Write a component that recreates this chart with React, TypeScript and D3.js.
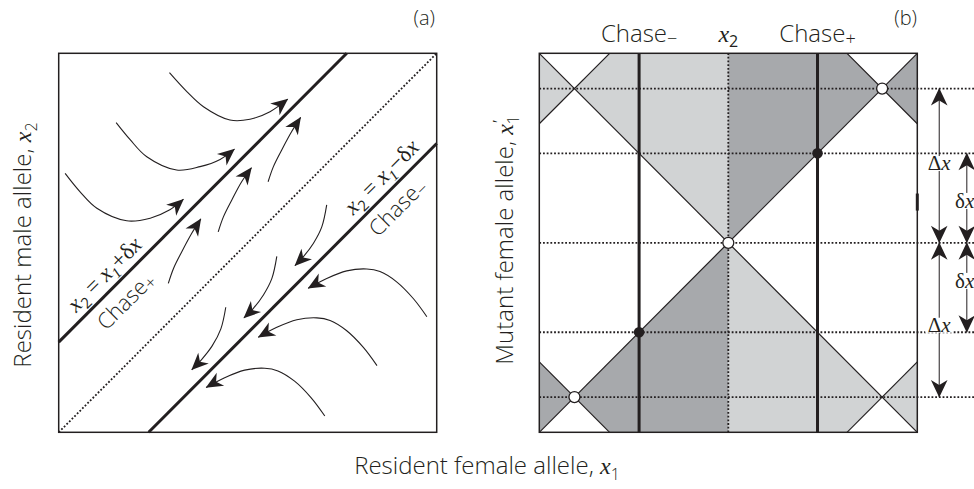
import React from "react";
import * as d3 from "d3";

// ---------- Panel (a) data (unit square 0..100) ----------
const diagA: [number, number][] = [[0, 0], [100, 100]];
const chasePlusLineA: [number, number][] = [[0, 23.8], [76.2, 100]];
const chaseMinusLineA: [number, number][] = [[23.8, 0], [100, 76.2]];

const flowOuterPlus: [number, number][][] = [
  [[29.3, 94.9], [33.9, 89.9], [38.3, 85.9], [45.3, 82.4], [50.6, 82.6], [55.9, 84.6], [60.6, 87.9]],
  [[15.2, 81.7], [18.9, 77.2], [23.3, 72.7], [31.2, 69.2], [37.4, 70.1], [42.7, 72.0], [46.5, 74.7]],
  [[1.7, 68.3], [5.6, 63.5], [10.1, 59.1], [18.0, 55.8], [24.2, 56.5], [29.4, 58.7], [33.0, 61.5]],
];
const flowInnerPlus: [number, number][][] = [
  [[55.4, 66.1], [56.8, 70.1], [59.0, 74.5], [61.6, 79.3], [64.0, 83.1]],
  [[42.2, 52.9], [43.6, 56.9], [45.8, 61.3], [48.4, 66.1], [51.0, 69.8]],
  [[29.0, 39.3], [30.4, 43.3], [32.6, 47.7], [35.2, 52.5], [37.6, 56.3]],
];
const flowInnerMinus: [number, number][][] = [
  [[70.9, 60.0], [69.6, 54.2], [67.4, 49.9], [64.7, 46.3], [62.5, 44.0]],
  [[57.7, 46.4], [56.4, 40.6], [54.2, 36.3], [51.5, 32.7], [49.0, 30.2]],
  [[44.2, 33.0], [42.9, 27.3], [40.6, 22.8], [37.8, 19.2], [35.2, 16.5]],
];
const flowOuterMinus: [number, number][][] = [
  [[97.4, 30.5], [93.8, 35.3], [89.4, 39.7], [85.0, 42.4], [81.5, 43.1], [76.2, 42.6], [70.9, 40.6], [66.0, 38.0]],
  [[84.2, 17.6], [80.6, 22.4], [76.2, 26.8], [71.8, 29.5], [68.3, 30.2], [63.0, 29.7], [57.7, 27.7], [52.8, 25.1]],
  [[70.4, 4.3], [66.8, 9.1], [62.4, 13.5], [58.0, 16.2], [54.5, 16.9], [49.2, 16.4], [43.9, 14.4], [39.0, 11.8]],
];
// label anchors on the lines (u coordinate)
const labelAnchorsA = { eqPlus: 15, chasePlus: 14.3, eqMinus: 88.3, chaseMinus: 86.4 };

// ---------- Panel (b) data (unit square 0..1) ----------
const bLevels = [0.093, 0.264, 0.5, 0.736, 0.907];
const bChaseMinus = 0.264;
const bChasePlus = 0.736;
const bX2 = 0.5;
const bDottedEnd = 1.15;
const lightRegions: [number, number][][] = [
  [[0.093, 0.907], [0.186, 1], [0.5, 1], [0.5, 0.5]],
  [[0, 1], [0, 0.814], [0.093, 0.907]],
  [[0.5, 0.5], [0.5, 0], [0.814, 0], [0.907, 0.093]],
  [[1, 0], [1, 0.186], [0.907, 0.093]],
];
const darkRegions: [number, number][][] = [
  [[0.5, 0.5], [0.5, 1], [0.814, 1], [0.907, 0.907]],
  [[1, 1], [1, 0.814], [0.907, 0.907]],
  [[0.5, 0.5], [0.5, 0], [0.186, 0], [0.093, 0.093]],
  [[0, 0], [0, 0.186], [0.093, 0.093]],
];
const bThinLines: [number, number][][] = [
  [[0, 0], [1, 1]],
  [[0, 1], [1, 0]],
  [[0, 0.814], [0.186, 1]],
  [[0.814, 1], [1, 0.814]],
  [[0, 0.186], [0.186, 0]],
  [[0.814, 0], [1, 0.186]],
];
const openDots: [number, number][] = [[0.093, 0.093], [0.5, 0.5], [0.907, 0.907]];
const filledDots: [number, number][] = [[0.264, 0.264], [0.736, 0.736]];
const arrowCols = [1.058, 1.131];
const arrowSegs = [
  { col: 0, from: 0.907, to: 0.5 },
  { col: 0, from: 0.5, to: 0.093 },
  { col: 1, from: 0.736, to: 0.5 },
  { col: 1, from: 0.5, to: 0.264 },
];
const bigDeltaLabels = [0.692, 0.2654];
const smallDeltaLabels = [0.592, 0.381];
const borderMark = [0.585, 0.63];

const INK = "#231f20";
const LIGHT = "#d1d3d4";
const DARK = "#a7a9ac";
const SANS = "'Open Sans', 'DejaVu Sans', sans-serif";
const SERIF = "'Liberation Serif', 'DejaVu Serif', serif";
const DOT = "1.8 1.9";

export default function App() {
  // scales
  const xa = d3.scaleLinear().domain([0, 100]).range([58.7, 436.7]);
  const ya = d3.scaleLinear().domain([0, 100]).range([432.3, 53.3]);
  const xb = d3.scaleLinear().domain([0, 1]).range([539.3, 917.3]);
  const yb = d3.scaleLinear().domain([0, 1]).range([432.3, 53.3]);

  const lineA = d3.line<[number, number]>().x((d) => xa(d[0])).y((d) => ya(d[1]));
  const curveA = d3
    .line<[number, number]>()
    .x((d) => xa(d[0]))
    .y((d) => ya(d[1]))
    .curve(d3.curveCatmullRom.alpha(0.5));
  const lineB = d3.line<[number, number]>().x((d) => xb(d[0])).y((d) => yb(d[1]));

  const angle = (Math.atan2(ya(100) - ya(0), xa(100) - xa(0)) * 180) / Math.PI;

  const flows = [...flowOuterPlus, ...flowInnerPlus, ...flowInnerMinus, ...flowOuterMinus];

  const onPlus = (u: number) => [xa(u), ya(u + 23.8)];
  const onMinus = (u: number) => [xa(u), ya(u - 23.8)];

  const eqP = onPlus(labelAnchorsA.eqPlus);
  const chP = onPlus(labelAnchorsA.chasePlus);
  const eqM = onMinus(labelAnchorsA.eqMinus);
  const chM = onMinus(labelAnchorsA.chaseMinus);

  const eqText = (sign: string) => (
    <text textAnchor="middle" dy={-8} fontSize={23} fill={INK}>
      <tspan fontFamily={SERIF} fontStyle="italic">x</tspan>
      <tspan fontFamily={SANS} fontSize={15} dy={5}>2</tspan>
      <tspan fontFamily={SERIF} dy={-5}> = </tspan>
      <tspan fontFamily={SERIF} fontStyle="italic">x</tspan>
      <tspan fontFamily={SERIF} fontStyle="italic" fontSize={15} dy={5}>1</tspan>
      <tspan fontFamily={SERIF} dy={-5}>{sign}δ</tspan>
      <tspan fontFamily={SERIF} fontStyle="italic">x</tspan>
    </text>
  );
  const chaseText = (sub: string, dy: number, size: number) => (
    <text textAnchor="middle" dy={dy} fontFamily={SANS} fontWeight={300} fontSize={size} fill={INK}>
      Chase
      <tspan fontSize={size * 0.8} dy={3}>{sub}</tspan>
    </text>
  );

  return (
    <svg
      width={974}
      height={489}
      style={{ position: "absolute", left: 0, top: 0, background: "#fff" }}
      xmlns="http://www.w3.org/2000/svg"
    >
      <defs>
        <marker id="ahA" viewBox="-18 -9 19 18" refX={0} refY={0} markerWidth={19} markerHeight={18}
          markerUnits="userSpaceOnUse" orient="auto">
          <path d="M0.5,0 L-16.5,-7.5 L-11.5,0 L-16.5,7.5 Z" fill={INK} />
        </marker>
        <marker id="ahB" viewBox="-18 -9 19 18" refX={0} refY={0} markerWidth={19} markerHeight={18}
          markerUnits="userSpaceOnUse" orient="auto-start-reverse">
          <path d="M0.5,0 L-17,-8.3 L-12,0 L-17,8.3 Z" fill={INK} />
        </marker>
      </defs>

      {/* ===== Panel (a) ===== */}
      <text x={435} y={25} textAnchor="end" fontFamily={SANS} fontWeight={300} fontSize={20} fill={INK}>(a)</text>
      <rect x={xa(0)} y={ya(100)} width={xa(100) - xa(0)} height={ya(0) - ya(100)} fill="#fff" />
      <path d={lineA(diagA) || ""} stroke={INK} strokeWidth={1.8} strokeDasharray={DOT} fill="none" />
      <path d={lineA(chasePlusLineA) || ""} stroke={INK} strokeWidth={3} fill="none" />
      <path d={lineA(chaseMinusLineA) || ""} stroke={INK} strokeWidth={3} fill="none" />
      {flows.map((f, i) => (
        <path key={i} d={curveA(f) || ""} stroke={INK} strokeWidth={1.1} fill="none" markerEnd="url(#ahA)" />
      ))}
      <g transform={`translate(${eqP[0]},${eqP[1]}) rotate(${angle})`}>{eqText("+")}</g>
      <g transform={`translate(${chP[0]},${chP[1]}) rotate(${angle})`}>{chaseText("+", 26, 22)}</g>
      <g transform={`translate(${eqM[0]},${eqM[1]}) rotate(${angle})`}>{eqText("−")}</g>
      <g transform={`translate(${chM[0]},${chM[1]}) rotate(${angle})`}>{chaseText("−", 25, 22)}</g>
      <rect x={xa(0)} y={ya(100)} width={xa(100) - xa(0)} height={ya(0) - ya(100)} fill="none" stroke={INK} strokeWidth={1.5} />
      <g transform={`translate(31,245) rotate(-90)`}>
        <text textAnchor="middle" fontFamily={SANS} fontWeight={300} fontSize={24} fill={INK}>
          Resident male allele,{" "}
          <tspan fontFamily={SERIF} fontStyle="italic">x</tspan>
          <tspan fontSize={16} dy={6}>2</tspan>
        </text>
      </g>

      {/* ===== Panel (b) ===== */}
      <text x={917} y={25} textAnchor="end" fontFamily={SANS} fontWeight={300} fontSize={20} fill={INK}>(b)</text>
      <rect x={xb(0)} y={yb(1)} width={xb(1) - xb(0)} height={yb(0) - yb(1)} fill="#fff" />
      {lightRegions.map((p, i) => (
        <path key={"l" + i} d={(lineB(p) || "") + "Z"} fill={LIGHT} stroke="none" />
      ))}
      {darkRegions.map((p, i) => (
        <path key={"d" + i} d={(lineB(p) || "") + "Z"} fill={DARK} stroke="none" />
      ))}
      {bThinLines.map((p, i) => (
        <path key={"t" + i} d={lineB(p) || ""} stroke={INK} strokeWidth={1.2} fill="none" />
      ))}
      {bLevels.map((lv, i) => (
        <line key={"h" + i} x1={xb(0)} x2={xb(bDottedEnd)} y1={yb(lv)} y2={yb(lv)}
          stroke={INK} strokeWidth={1.8} strokeDasharray={DOT} />
      ))}
      <line x1={xb(bX2)} x2={xb(bX2)} y1={yb(0)} y2={yb(1)} stroke={INK} strokeWidth={1.8} strokeDasharray={DOT} />
      {[bChaseMinus, bChasePlus].map((c, i) => (
        <line key={"c" + i} x1={xb(c)} x2={xb(c)} y1={yb(0)} y2={yb(1)} stroke={INK} strokeWidth={3} />
      ))}
      {filledDots.map((d, i) => (
        <circle key={"f" + i} cx={xb(d[0])} cy={yb(d[1])} r={5.3} fill={INK} />
      ))}
      {openDots.map((d, i) => (
        <circle key={"o" + i} cx={xb(d[0])} cy={yb(d[1])} r={5.5} fill="#fff" stroke={INK} strokeWidth={1.3} />
      ))}
      <rect x={xb(0)} y={yb(1)} width={xb(1) - xb(0)} height={yb(0) - yb(1)} fill="none" stroke={INK} strokeWidth={1.5} />
      <line x1={xb(1)} x2={xb(1)} y1={yb(borderMark[0])} y2={yb(borderMark[1])} stroke={INK} strokeWidth={3} />

      {arrowSegs.map((s, i) => (
        <line key={"a" + i} x1={xb(arrowCols[s.col])} x2={xb(arrowCols[s.col])} y1={yb(s.from)} y2={yb(s.to)}
          stroke={INK} strokeWidth={1} markerStart="url(#ahB)" markerEnd="url(#ahB)" />
      ))}
      {bigDeltaLabels.map((w, i) => (
        <g key={"D" + i}>
          <rect x={xb(arrowCols[0]) - 14} y={yb(w) - 14} width={28} height={15} fill="#fff" />
          <text x={xb(arrowCols[0])} y={yb(w)} textAnchor="middle" fontFamily={SERIF} fontSize={21} fill={INK}>
            Δ<tspan fontStyle="italic">x</tspan>
          </text>
        </g>
      ))}
      {smallDeltaLabels.map((w, i) => (
        <g key={"dd" + i}>
          <rect x={955} y={yb(w) - 15} width={20} height={16} fill="#fff" />
          <text x={955} y={yb(w)} fontFamily={SERIF} fontSize={21} fill={INK}>
            δ<tspan fontStyle="italic">x</tspan>
          </text>
        </g>
      ))}

      {/* top labels */}
      <text x={xb(bChaseMinus)} y={41.7} textAnchor="middle" fontFamily={SANS} fontWeight={300} fontSize={24} fill={INK}>
        Chase<tspan fontSize={18} dy={3}>−</tspan>
      </text>
      <text x={xb(bX2)} y={41.7} textAnchor="middle" fontSize={24} fill={INK}>
        <tspan fontFamily={SERIF} fontStyle="italic">x</tspan>
        <tspan fontFamily={SANS} fontSize={16} dy={5}>2</tspan>
      </text>
      <text x={xb(bChasePlus)} y={41.7} textAnchor="middle" fontFamily={SANS} fontWeight={300} fontSize={24} fill={INK}>
        Chase<tspan fontSize={18} dy={3}>+</tspan>
      </text>

      <g transform={`translate(513,240) rotate(-90)`}>
        <text textAnchor="middle" fontFamily={SANS} fontWeight={300} fontSize={24} fill={INK}>
          Mutant female allele,{" "}
          <tspan fontFamily={SERIF} fontStyle="italic">x</tspan>
          <tspan fontFamily={SERIF} fontStyle="italic" fontSize={16} dy={-9}>′</tspan>
          <tspan fontSize={16} dx={-4} dy={15}>1</tspan>
        </text>
      </g>

      {/* shared x label */}
      <text x={487} y={474} textAnchor="middle" fontFamily={SANS} fontWeight={300} fontSize={24} fill={INK}>
        Resident female allele,{" "}
        <tspan fontFamily={SERIF} fontStyle="italic">x</tspan>
        <tspan fontSize={16} dy={6}>1</tspan>
      </text>
    </svg>
  );
}
